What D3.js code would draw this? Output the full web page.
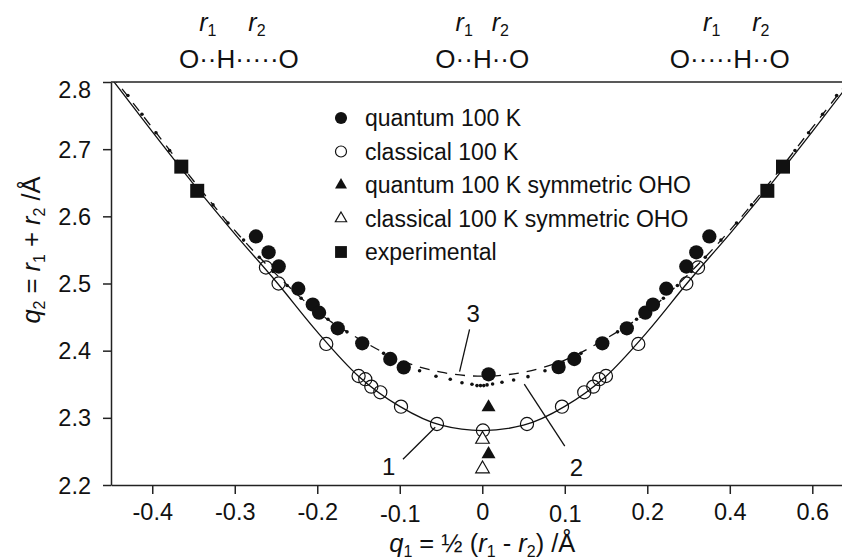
<!DOCTYPE html>
<html>
<head>
<meta charset="utf-8">
<script src="https://cdn.jsdelivr.net/npm/d3@7"></script>
<style>
    body { margin: 0; background: #fff; }
    svg text { font-family: "Liberation Sans", Arial, sans-serif; fill: #111; }
</style>
</head>
<body>
<div id="chart"></div>
<script>
// values, q1 and q2 in Å
let xTicks = [-0.4, -0.3, -0.2, -0.1, 0, 0.1, 0.2, 0.3, 0.4];
let xTickLabels = ['-0.4', '-0.3', '-0.2', '-0.1', '0', '0.1', '0.2', '0.4', '0.6'];
let yTicks = [2.2, 2.3, 2.4, 2.5, 2.6, 2.7, 2.8];

let quantum = [[-0.2743, 2.570], [-0.259, 2.5465], [-0.2467, 2.5253], [-0.223, 2.4923], [-0.2055, 2.4687],
    [-0.1978, 2.4565], [-0.1752, 2.4333], [-0.1455, 2.411], [-0.1115, 2.3876], [-0.0952, 2.375],
    [0.0076, 2.3648],
    [0.0925, 2.3755], [0.1115, 2.3876], [0.1455, 2.411], [0.1752, 2.4333], [0.1976, 2.4565],
    [0.2069, 2.4687], [0.223, 2.4923], [0.2473, 2.5253], [0.2594, 2.5465], [0.2752, 2.570]];

let classical = [[-0.2622, 2.5238], [-0.2469, 2.500], [-0.1891, 2.410], [-0.1499, 2.3623], [-0.1418, 2.3575],
    [-0.1345, 2.3464], [-0.1236, 2.338], [-0.0985, 2.3166], [-0.0549, 2.2908], [0.0008, 2.2812],
    [0.0542, 2.2908], [0.0966, 2.3166], [0.1236, 2.338], [0.1345, 2.3464], [0.1418, 2.3575],
    [0.1499, 2.3623], [0.1891, 2.410], [0.2473, 2.500], [0.2615, 2.5238]];

let quantumSym = [[0.0076, 2.3157], [0.0076, 2.246]];
let classicalSym = [[0.0003, 2.268], [0.0003, 2.224]];
let experimental = [[-0.3648, 2.674], [-0.3455, 2.638], [0.3455, 2.638], [0.3645, 2.674]];

// curve 1 (solid)
let curve1 = [[-0.45, 2.806], [-0.40, 2.726], [-0.35, 2.648], [-0.30, 2.574], [-0.25, 2.503], [-0.20, 2.428],
    [-0.15, 2.362], [-0.10, 2.317], [-0.05, 2.289], [0, 2.281], [0.05, 2.289], [0.10, 2.317], [0.15, 2.362],
    [0.20, 2.428], [0.25, 2.503], [0.30, 2.574], [0.35, 2.648], [0.40, 2.726], [0.45, 2.806]];

// curve 2 (dashed)
let curve2 = [[-0.45, 2.811], [-0.40, 2.732], [-0.35, 2.653], [-0.30, 2.579], [-0.25, 2.514], [-0.20, 2.458],
    [-0.15, 2.418], [-0.10, 2.386], [-0.05, 2.368], [0, 2.362], [0.05, 2.368], [0.10, 2.386], [0.15, 2.418],
    [0.20, 2.458], [0.25, 2.514], [0.30, 2.579], [0.35, 2.653], [0.40, 2.732], [0.45, 2.811]];

// curve 3 (dotted), one entry per dot
let curve3 = [[-0.4295, 2.780], [-0.4125, 2.752], [-0.3955, 2.7245], [-0.379, 2.698], [-0.3615, 2.671],
    [-0.344, 2.644], [-0.3264, 2.617], [-0.3082, 2.590], [-0.2893, 2.5646], [-0.2703, 2.539],
    [-0.2535, 2.518], [-0.2365, 2.497], [-0.2195, 2.478], [-0.2035, 2.461], [-0.187, 2.4467],
    [-0.164, 2.428], [-0.142, 2.411], [-0.1196, 2.396], [-0.098, 2.382], [-0.076, 2.370],
    [-0.0561, 2.362], [-0.0388, 2.3575], [-0.0246, 2.3523], [-0.0125, 2.350], [-0.0064, 2.348],
    [-0.0022, 2.348], [0.0018, 2.348], [0.0058, 2.349], [0.0125, 2.3504], [0.0239, 2.353],
    [0.038, 2.3564], [0.0554, 2.3613], [0.076, 2.370], [0.098, 2.382], [0.1196, 2.396],
    [0.142, 2.411], [0.164, 2.428], [0.187, 2.4467], [0.2035, 2.461], [0.2195, 2.478],
    [0.2365, 2.497], [0.2535, 2.518], [0.2703, 2.539], [0.2893, 2.5646], [0.3082, 2.590],
    [0.3264, 2.617], [0.344, 2.644], [0.3615, 2.671], [0.379, 2.698], [0.3955, 2.7245],
    [0.4125, 2.752], [0.4295, 2.780]];

let legendNames = ['quantum 100 K', 'classical 100 K', 'quantum 100 K symmetric OHO',
    'classical 100 K symmetric OHO', 'experimental'];

// top sketches of the O-H-O bond
let bondSketches = ['O··H·····O', 'O··H··O', 'O·····H··O'];

{
    let width = 842,
        height = 559,
        left = 111, right = 842, top = 82, bottom = 485;

    let svg = d3.select('#chart').append('svg')
        .attr('width', width)
        .attr('height', height);

    let x = d3.scaleLinear().domain([-0.45, 0.436]).range([left, right]);
    let y = d3.scaleLinear().domain([2.2, 2.8]).range([bottom, top]);

    svg.append('clipPath').attr('id', 'plot-clip')
        .append('rect')
        .attr('x', left).attr('y', top)
        .attr('width', right - left).attr('height', bottom - top);

    let plot = svg.append('g').attr('clip-path', 'url(#plot-clip)');

    let line = d3.line()
        .x(d => x(d[0]))
        .y(d => y(d[1]))
        .curve(d3.curveMonotoneX);

    // curves
    plot.append('path')
        .datum(curve1)
        .attr('d', line)
        .attr('fill', 'none')
        .attr('stroke', '#111')
        .attr('stroke-width', 1.3);

    plot.append('path')
        .datum(curve2)
        .attr('d', line)
        .attr('fill', 'none')
        .attr('stroke', '#111')
        .attr('stroke-width', 1.3)
        .attr('stroke-dasharray', '10,8');

    plot.selectAll('.dot3')
        .data(curve3)
        .enter()
        .append('circle')
        .attr('class', 'dot3')
        .attr('cx', d => x(d[0]))
        .attr('cy', d => y(d[1]))
        .attr('r', 1.8)
        .attr('fill', '#111');

    // markers
    let sym = (type, size) => d3.symbol().type(type).size(size)();

    function drawMarkers(data, path, fill, stroke) {
        svg.append('g').selectAll('path')
            .data(data)
            .enter()
            .append('path')
            .attr('transform', d => `translate(${x(d[0])},${y(d[1])})`)
            .attr('d', path)
            .attr('fill', fill)
            .attr('stroke', stroke)
            .attr('stroke-width', 1.2);
    }

    drawMarkers(classical, sym(d3.symbolCircle, 135), 'none', '#111');
    drawMarkers(quantum, sym(d3.symbolCircle, 160), '#111', 'none');
    drawMarkers(experimental, sym(d3.symbolSquare, 196), '#111', 'none');
    drawMarkers(classicalSym, sym(d3.symbolTriangle, 80), '#fff', '#111');
    drawMarkers(quantumSym, sym(d3.symbolTriangle, 85), '#111', 'none');

    // axes
    let xAxis = d3.axisBottom(x)
        .tickValues(xTicks)
        .tickFormat((d, i) => xTickLabels[i])
        .tickSize(9)
        .tickSizeOuter(0)
        .tickPadding(9);

    let gx = svg.append('g')
        .attr('transform', `translate(0,${bottom})`)
        .call(xAxis);
    gx.selectAll('text')
        .attr('font-size', 23.5)
        .attr('dy', (d, i) => (xTickLabels[i] === '-0.1' || xTickLabels[i] === '0.1') ? '0.82em' : '0.71em');

    let yAxis = d3.axisLeft(y)
        .tickValues(yTicks)
        .tickFormat(d3.format('.1f'))
        .tickSize(8)
        .tickSizeOuter(0)
        .tickPadding(12);

    let gy = svg.append('g')
        .attr('transform', `translate(${left},0)`)
        .call(yAxis);
    gy.selectAll('text')
        .attr('font-size', 23.5)
        .attr('dy', d => d === 2.8 ? '0.66em' : '0.34em');

    svg.selectAll('.domain, .tick line')
        .attr('stroke', '#222')
        .attr('stroke-width', 1.5);

    // top frame line
    svg.append('line')
        .attr('x1', left).attr('x2', right)
        .attr('y1', top).attr('y2', top)
        .attr('stroke', '#222')
        .attr('stroke-width', 1.5);

    // axis titles
    let xt = svg.append('text')
        .attr('x', x(0))
        .attr('y', 552)
        .attr('text-anchor', 'middle')
        .attr('font-size', 25.5);
    xt.append('tspan').attr('font-style', 'italic').text('q');
    xt.append('tspan').attr('font-size', 16).attr('dy', 5).text('1');
    xt.append('tspan').attr('dy', -5).text(' = ½ (');
    xt.append('tspan').attr('font-style', 'italic').text('r');
    xt.append('tspan').attr('font-size', 16).attr('dy', 5).text('1');
    xt.append('tspan').attr('dy', -5).text(' - ');
    xt.append('tspan').attr('font-style', 'italic').text('r');
    xt.append('tspan').attr('font-size', 16).attr('dy', 5).text('2');
    xt.append('tspan').attr('dy', -5).text(') /Å');

    let yt = svg.append('text')
        .attr('transform', 'translate(40,250) rotate(-90)')
        .attr('text-anchor', 'middle')
        .attr('font-size', 25.5);
    yt.append('tspan').attr('font-style', 'italic').text('q');
    yt.append('tspan').attr('font-size', 16).attr('dy', 5).text('2');
    yt.append('tspan').attr('dy', -5).text(' = ');
    yt.append('tspan').attr('font-style', 'italic').text('r');
    yt.append('tspan').attr('font-size', 16).attr('dy', 5).text('1');
    yt.append('tspan').attr('dy', -5).text(' + ');
    yt.append('tspan').attr('font-style', 'italic').text('r');
    yt.append('tspan').attr('font-size', 16).attr('dy', 5).text('2');
    yt.append('tspan').attr('dy', -5).text(' /Å');

    // legend
    let legendSyms = [
        { p: sym(d3.symbolCircle, 115), fill: '#111', stroke: 'none' },
        { p: sym(d3.symbolCircle, 95), fill: 'none', stroke: '#111' },
        { p: sym(d3.symbolTriangle, 62), fill: '#111', stroke: 'none' },
        { p: sym(d3.symbolTriangle, 55), fill: 'none', stroke: '#111' },
        { p: sym(d3.symbolSquare, 140), fill: '#111', stroke: 'none' }
    ];
    let legend = svg.append('g').attr('transform', 'translate(341,118)');
    let rows = legend.selectAll('g')
        .data(legendNames)
        .enter()
        .append('g')
        .attr('transform', (d, i) => `translate(0,${i * 33.5})`);
    rows.append('path')
        .attr('d', (d, i) => legendSyms[i].p)
        .attr('fill', (d, i) => legendSyms[i].fill)
        .attr('stroke', (d, i) => legendSyms[i].stroke)
        .attr('stroke-width', 1.2);
    rows.append('text')
        .attr('x', 24)
        .attr('dy', '0.36em')
        .attr('font-size', 23)
        .text(d => d);

    // curve labels and pointers
    let notes = [
        { t: '1', at: [-0.1133, 2.2273], from: [-0.0961, 2.2383], to: [-0.057, 2.286] },
        { t: '2', at: [0.114, 2.2268], from: [0.1, 2.258], to: [0.0509, 2.3503] },
        { t: '3', at: [-0.0109, 2.4556], from: [-0.0154, 2.4318], to: [-0.0275, 2.3687] }
    ];
    notes.forEach(n => {
        svg.append('line')
            .attr('x1', x(n.from[0])).attr('y1', y(n.from[1]))
            .attr('x2', x(n.to[0])).attr('y2', y(n.to[1]))
            .attr('stroke', '#111')
            .attr('stroke-width', 1.3);
        svg.append('text')
            .attr('x', x(n.at[0]))
            .attr('y', y(n.at[1]))
            .attr('dy', '0.36em')
            .attr('text-anchor', 'middle')
            .attr('font-size', 24)
            .text(n.t);
    });

    // O-H-O sketches above the plot
    let sketchQ1 = [-0.295, 0, 0.3];
    bondSketches.forEach((s, k) => {
        let t = svg.append('text')
            .attr('x', x(sketchQ1[k]))
            .attr('y', 68)
            .attr('text-anchor', 'middle')
            .attr('font-size', 26)
            .text(s);
        let node = t.node();
        let hIdx = s.indexOf('H');
        let o1 = node.getEndPositionOfChar(0).x;
        let h0 = node.getStartPositionOfChar(hIdx).x;
        let h1 = node.getEndPositionOfChar(hIdx).x;
        let o2 = node.getStartPositionOfChar(s.length - 1).x;
        [[(o1 + h0) / 2, '1'], [(h1 + o2) / 2, '2']].forEach(r => {
            let rt = svg.append('text')
                .attr('x', r[0])
                .attr('y', 31)
                .attr('text-anchor', 'middle')
                .attr('font-size', 25);
            rt.append('tspan').attr('font-style', 'italic').text('r');
            rt.append('tspan').attr('font-size', 16).attr('dy', 5).text(r[1]);
        });
    });
}
</script>
</body>
</html>
